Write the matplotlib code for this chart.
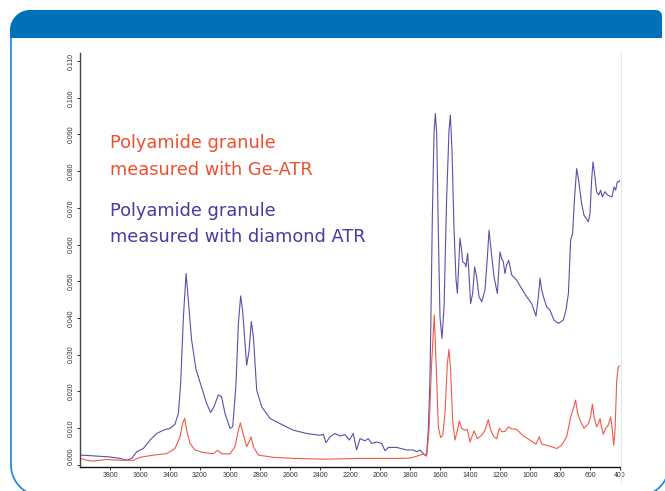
import numpy as np
import matplotlib
matplotlib.use("Agg")
import matplotlib.pyplot as plt
from matplotlib.path import Path
from matplotlib.patches import PathPatch

# diamond ATR spectrum (wavenumber cm-1, absorbance)
wn_diamond = [3996, 3911, 3800, 3733, 3689, 3656, 3622, 3578, 3533, 3489, 3444, 3400,
              3367, 3344, 3329, 3311, 3293, 3278, 3256, 3227, 3189, 3156, 3129, 3107,
              3078, 3056, 3033, 3000, 2982, 2960, 2944, 2929, 2916, 2889, 2873, 2858,
              2844, 2822, 2789, 2733, 2667, 2578, 2489, 2400, 2378, 2360, 2333, 2300,
              2267, 2233, 2204, 2178, 2156, 2133, 2100, 2078, 2056, 2022, 1989, 1967,
              1944, 1889, 1822, 1778, 1756, 1733, 1711, 1700, 1689, 1678, 1667, 1662,
              1651, 1640, 1631, 1622, 1611, 1600, 1587, 1573, 1556, 1540, 1531, 1520,
              1507, 1493, 1484, 1476, 1467, 1456, 1449, 1433, 1427, 1416, 1407, 1396,
              1382, 1369, 1356, 1340, 1322, 1300, 1284, 1273, 1262, 1240, 1218, 1200,
              1189, 1178, 1167, 1156, 1142, 1122, 1089, 1056, 1022, 989, 960, 944,
              933, 922, 907, 889, 867, 840, 811, 778, 760, 744, 729, 716, 704, 689,
              676, 656, 640, 611, 600, 589, 580, 571, 556, 542, 529, 518, 500, 484,
              467, 453, 440, 429, 418, 407, 400]
abs_diamond = [0.0026, 0.0024, 0.0021, 0.0017, 0.0012, 0.0017, 0.0035, 0.0044, 0.0067, 0.0085,
               0.0094, 0.0099, 0.0110, 0.0140, 0.0220, 0.0400, 0.0521, 0.0450, 0.0340, 0.0260,
               0.0210, 0.0167, 0.0142, 0.0158, 0.0190, 0.0185, 0.0139, 0.0099, 0.0103, 0.0220,
               0.0385, 0.0460, 0.0420, 0.0271, 0.0310, 0.0390, 0.0349, 0.0203, 0.0158, 0.0126,
               0.0112, 0.0094, 0.0085, 0.0080, 0.0083, 0.0060, 0.0076, 0.0085, 0.0078, 0.0082,
               0.0067, 0.0085, 0.0040, 0.0071, 0.0065, 0.0071, 0.0058, 0.0062, 0.0058, 0.0038,
               0.0047, 0.0047, 0.0040, 0.0040, 0.0035, 0.0040, 0.0030, 0.0026, 0.0030, 0.0094,
               0.0230, 0.0358, 0.0676, 0.0903, 0.0957, 0.0903, 0.0630, 0.0403, 0.0344, 0.0430,
               0.0721, 0.0912, 0.0953, 0.0857, 0.0648, 0.0503, 0.0467, 0.0539, 0.0617, 0.0585,
               0.0553, 0.0548, 0.0539, 0.0576, 0.0521, 0.0439, 0.0467, 0.0539, 0.0512, 0.0458,
               0.0444, 0.0476, 0.0567, 0.0639, 0.0594, 0.0512, 0.0467, 0.0580, 0.0562, 0.0553,
               0.0521, 0.0544, 0.0557, 0.0517, 0.0503, 0.0480, 0.0458, 0.0439, 0.0405, 0.0458,
               0.0508, 0.0476, 0.0453, 0.0430, 0.0421, 0.0394, 0.0385, 0.0394, 0.0421, 0.0467,
               0.0612, 0.0630, 0.0721, 0.0807, 0.0776, 0.0712, 0.0680, 0.0662, 0.0685, 0.0776,
               0.0825, 0.0798, 0.0744, 0.0735, 0.0748, 0.0730, 0.0744, 0.0735, 0.0732, 0.0730,
               0.0757, 0.0748, 0.0771, 0.0771, 0.0775]

# Ge-ATR spectrum
wn_ge = [3996, 3956, 3911, 3822, 3733, 3644, 3600, 3511, 3422, 3367, 3333, 3316,
         3302, 3289, 3267, 3233, 3178, 3111, 3082, 3056, 3000, 2967, 2944, 2931,
         2916, 2889, 2873, 2860, 2844, 2811, 2711, 2578, 2356, 2133, 1911, 1867,
         1800, 1756, 1711, 1689, 1673, 1656, 1638, 1622, 1611, 1596, 1582, 1567,
         1551, 1540, 1529, 1516, 1500, 1484, 1471, 1456, 1433, 1418, 1400, 1373,
         1351, 1322, 1300, 1278, 1262, 1240, 1222, 1204, 1189, 1167, 1144, 1122,
         1089, 1044, 1000, 960, 938, 922, 889, 844, 822, 789, 756, 729, 711, 696,
         682, 662, 640, 611, 596, 584, 573, 556, 544, 533, 524, 511, 496, 478,
         462, 451, 442, 433, 422, 411, 400]
abs_ge = [0.0017, 0.0012, 0.0010, 0.0014, 0.0012, 0.0012, 0.0020, 0.0026, 0.0030, 0.0044,
          0.0076, 0.0112, 0.0126, 0.0094, 0.0058, 0.0040, 0.0033, 0.0030, 0.0039, 0.0030,
          0.0029, 0.0049, 0.0094, 0.0114, 0.0090, 0.0049, 0.0062, 0.0076, 0.0049, 0.0026,
          0.0020, 0.0017, 0.0015, 0.0017, 0.0017, 0.0017, 0.0018, 0.0023, 0.0029, 0.0023,
          0.0094, 0.0276, 0.0408, 0.0230, 0.0103, 0.0074, 0.0080, 0.0139, 0.0276, 0.0314,
          0.0258, 0.0121, 0.0067, 0.0094, 0.0119, 0.0099, 0.0094, 0.0096, 0.0062, 0.0092,
          0.0071, 0.0080, 0.0094, 0.0123, 0.0094, 0.0076, 0.0071, 0.0099, 0.0090, 0.0090,
          0.0103, 0.0098, 0.0096, 0.0078, 0.0067, 0.0056, 0.0076, 0.0056, 0.0053, 0.0047,
          0.0044, 0.0053, 0.0076, 0.0129, 0.0153, 0.0176, 0.0139, 0.0117, 0.0099, 0.0112,
          0.0130, 0.0165, 0.0130, 0.0103, 0.0112, 0.0126, 0.0103, 0.0083, 0.0099, 0.0108,
          0.0130, 0.0094, 0.0053, 0.0094, 0.0230, 0.0267, 0.0269]

xticks = list(range(3800, 399, -200))
yticks = [i / 1000 for i in range(0, 111, 10)]

red_line = '#f05a46'
blue_line = '#5a50aa'
red_text = '#f04e2e'
blue_text = '#463ca0'
frame_blue = '#0070ba'
border_blue = '#2a8ad5'

fig = plt.figure(figsize=(6.65, 4.91), dpi=100)

# spectrum axes
ax = fig.add_axes([80 / 665, 1 - 466.5 / 491, 540 / 665, (466.5 - 53) / 491])
ax.set_facecolor('none')
ax.plot(wn_diamond, abs_diamond, color=blue_line, lw=0.8)
ax.plot(wn_ge, abs_ge, color=red_line, lw=0.8)
ax.set_xlim(4000, 400)
ax.set_ylim(-0.0005, 0.1122)
ax.set_xticks(xticks)
ax.set_xticklabels([str(t) for t in xticks])
ax.set_yticks(yticks)
ax.set_yticklabels(['%.3f' % t for t in yticks], rotation=90, va='center')
ax.get_yticklabels()[0].set_va('bottom')
for lab in ax.get_xticklabels() + ax.get_yticklabels():
    lab.set_fontfamily('Liberation Sans')
    lab.set_fontsize(5)
    lab.set_color('#333333')
ax.tick_params(axis='both', direction='out', length=2.2, width=0.7, pad=1.5, colors='#333333')
ax.spines['top'].set_visible(False)
ax.spines['right'].set_visible(False)
ax.spines['left'].set_color('#444444')
ax.spines['left'].set_linewidth(1.0)
ax.spines['bottom'].set_color('#111111')
ax.spines['bottom'].set_linewidth(1.0)

# overlay in pixel units for the frame and the labels
ov = fig.add_axes([0, 0, 1, 1], zorder=3)
ov.set_xlim(0, 665)
ov.set_ylim(491, 0)
ov.axis('off')

# panel border: left side, rounded bottom corners (mostly below the picture)
r = 31
b1 = np.linspace(np.pi, 0.5 * np.pi, 25)
b2 = np.linspace(0.5 * np.pi, 0, 25)
bpts = [(11, 30), (11, 465)]
bpts += [(11 + r + r * np.cos(t), 465 + r * np.sin(t)) for t in b1]
bpts += [(669 - r + r * np.cos(t), 465 + r * np.sin(t)) for t in b2]
bpts += [(669, 30)]
ov.add_patch(PathPatch(Path(bpts), fill=False, edgecolor=border_blue, lw=1.3, clip_on=False))

# header band: big rounding top-left, small rounding top-right
a1 = np.linspace(np.pi, 1.5 * np.pi, 20)
a2 = np.linspace(1.5 * np.pi, 2 * np.pi, 10)
pts = [(10, 38)]
pts += [(30 + 20 * np.cos(t), 30 + 20 * np.sin(t)) for t in a1]
pts += [(656 + 6 * np.cos(t), 16 + 6 * np.sin(t)) for t in a2]
pts += [(662, 38), (10, 38)]
ov.add_patch(PathPatch(Path(pts), facecolor=frame_blue, edgecolor='none', clip_on=False))

# faint right border of the plot area
ov.plot([621, 621], [53, 481], color='#e4eadb', lw=0.8)

fs = 12.8
ov.text(110, 148, 'Polyamide granule', color=red_text, fontsize=fs, va='baseline')
ov.text(110, 175, 'measured with Ge-ATR', color=red_text, fontsize=fs, va='baseline')
ov.text(110, 215.5, 'Polyamide granule', color=blue_text, fontsize=fs, va='baseline')
ov.text(110, 242, 'measured with diamond ATR', color=blue_text, fontsize=fs, va='baseline')

fig.savefig('out.png', dpi=100)
